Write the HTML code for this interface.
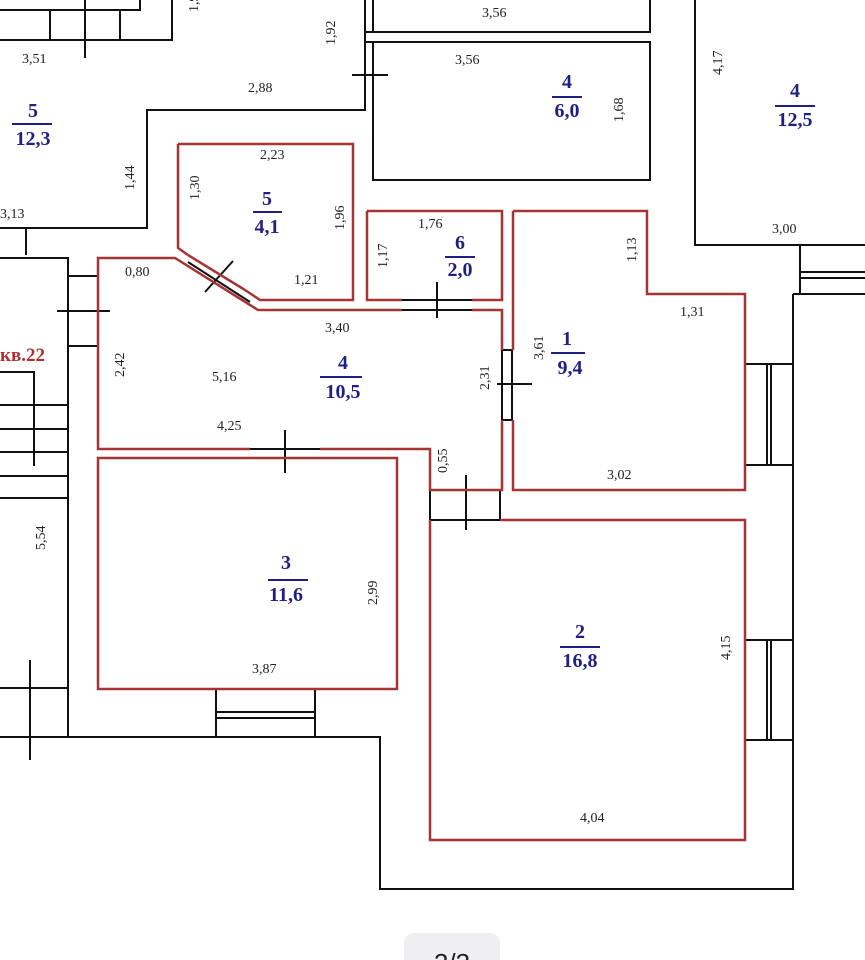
<!DOCTYPE html>
<html><head><meta charset="utf-8"><style>
html,body{margin:0;padding:0;background:#fff;width:865px;height:960px;overflow:hidden}
svg{display:block}
.k{stroke:#111;stroke-width:2;fill:none}
.r{stroke:#a53434;stroke-width:2.5;fill:none;stroke-linejoin:miter}
.d{font-family:"Liberation Serif",serif;font-size:14px;fill:#222}
.b{font-family:"Liberation Serif",serif;font-size:20px;font-weight:bold;fill:#1f1f85;text-anchor:middle}
.bl{stroke:#1f1f85;stroke-width:2}
</style></head><body>
<svg width="865" height="960" viewBox="0 0 865 960">
<path class="k" d="M0 10H140V0M0 40H172V0M50 10V40M120 10V40M85 0V58"/>
<path class="k" d="M365 0V110H147V228H0M373 0V32M373 42V110M365 32H373M365 42H373M352 75H388M26 228V255"/>
<rect class="k" x="373" y="-2" width="277" height="34"/>
<rect class="k" x="373" y="42" width="277" height="138"/>
<path class="k" d="M695 0V245H865M800 245V294M800 272H865M800 278H865M793 294H865M793 294V889H380V737H0"/>
<path class="k" d="M0 258H68V737M68 276H98M68 346H98M57 311H110M0 372H34V466M0 405H68M0 429H68M0 452H68M0 476H68M0 498H68M0 688H68M30 660V760"/>
<path class="k" d="M216 689V737M315 689V737M216 712H315M216 718H315"/>
<path class="k" d="M745 364H793M745 465H793M767 364V465M771 364V465"/>
<path class="k" d="M745 640H793M745 740H793M767 640V740M771 640V740"/>
<path class="k" d="M430 490V520M500 490V520M430 490H500M430 520H500M466 475V530"/>
<path class="k" d="M250 449H320M250 458H320M285 430V473"/>
<path class="k" d="M502 350H512M502 420H512M502 350V420M512 350V420M497 384H532"/>
<path class="k" d="M402 300H472M402 310H472M437 282V318"/>
<path class="k" d="M188 262L250 302M205 292L233 261"/>
<path class="r" d="M178 144H353V300H260L245 290M178 144V248L188 255"/>
<path class="r" d="M245 290L188 255"/>
<path class="r" d="M367 211H502V300H472M402 300H367V211"/>
<path class="r" d="M250 449H98V258H175L258 310H402M472 310H502V350M502 420V490H430V449H320"/>
<path class="r" d="M98 458H397V689H98Z"/>
<path class="r" d="M513 211H647V294H745V490H513V420M513 350V211"/>
<path class="r" d="M500 520H745V840H430V520"/>
<text class="d" x="22" y="63">3,51</text>
<text class="d" x="248" y="92">2,88</text>
<text class="d" x="0" y="218">3,13</text>
<text class="d" x="260" y="159">2,23</text>
<text class="d" x="294" y="284">1,21</text>
<text class="d" x="125" y="276">0,80</text>
<text class="d" x="418" y="228">1,76</text>
<text class="d" x="325" y="332">3,40</text>
<text class="d" x="212" y="381">5,16</text>
<text class="d" x="217" y="430">4,25</text>
<text class="d" x="252" y="673">3,87</text>
<text class="d" x="455" y="64">3,56</text>
<text class="d" x="482" y="17">3,56</text>
<text class="d" x="607" y="479">3,02</text>
<text class="d" x="680" y="316">1,31</text>
<text class="d" x="580" y="822">4,04</text>
<text class="d" x="772" y="233">3,00</text>
<g class="d">
<text transform="translate(134,190) rotate(-90)">1,44</text>
<text transform="translate(335,45) rotate(-90)">1,92</text>
<text transform="translate(198,12) rotate(-90)">1,9</text>
<text transform="translate(199,200) rotate(-90)">1,30</text>
<text transform="translate(344,230) rotate(-90)">1,96</text>
<text transform="translate(387,268) rotate(-90)">1,17</text>
<text transform="translate(124,377) rotate(-90)">2,42</text>
<text transform="translate(45,550) rotate(-90)">5,54</text>
<text transform="translate(377,605) rotate(-90)">2,99</text>
<text transform="translate(489,390) rotate(-90)">2,31</text>
<text transform="translate(543,360) rotate(-90)">3,61</text>
<text transform="translate(447,473) rotate(-90)">0,55</text>
<text transform="translate(636,262) rotate(-90)">1,13</text>
<text transform="translate(623,122) rotate(-90)">1,68</text>
<text transform="translate(730,660) rotate(-90)">4,15</text>
<text transform="translate(722,75) rotate(-90)">4,17</text>
</g>
<text x="0" y="361" style="font-family:'Liberation Serif',serif;font-size:19px;font-weight:bold;fill:#b03030">кв.22</text>
<text class="b" x="33" y="117">5</text><line class="bl" x1="12" y1="124" x2="52" y2="124"/><text class="b" x="33" y="145">12,3</text>
<text class="b" x="267" y="205">5</text><line class="bl" x1="253" y1="212" x2="282" y2="212"/><text class="b" x="267" y="233">4,1</text>
<text class="b" x="460" y="249">6</text><line class="bl" x1="445" y1="257" x2="475" y2="257"/><text class="b" x="460" y="276">2,0</text>
<text class="b" x="343" y="369">4</text><line class="bl" x1="320" y1="377" x2="362" y2="377"/><text class="b" x="343" y="398">10,5</text>
<text class="b" x="286" y="569">3</text><line class="bl" x1="268" y1="580" x2="308" y2="580"/><text class="b" x="286" y="601">11,6</text>
<text class="b" x="567" y="345">1</text><line class="bl" x1="551" y1="353" x2="585" y2="353"/><text class="b" x="570" y="374">9,4</text>
<text class="b" x="580" y="638">2</text><line class="bl" x1="560" y1="647" x2="600" y2="647"/><text class="b" x="580" y="667">16,8</text>
<text class="b" x="567" y="88">4</text><line class="bl" x1="552" y1="97" x2="582" y2="97"/><text class="b" x="567" y="117">6,0</text>
<text class="b" x="795" y="97">4</text><line class="bl" x1="775" y1="106" x2="815" y2="106"/><text class="b" x="795" y="126">12,5</text>
<rect x="404" y="933" width="96" height="40" rx="10" fill="#efeff1"/>
<text x="452" y="972" text-anchor="middle" style="font-family:'Liberation Sans',sans-serif;font-size:26px;fill:#222">2/3</text>
</svg>
</body></html>
